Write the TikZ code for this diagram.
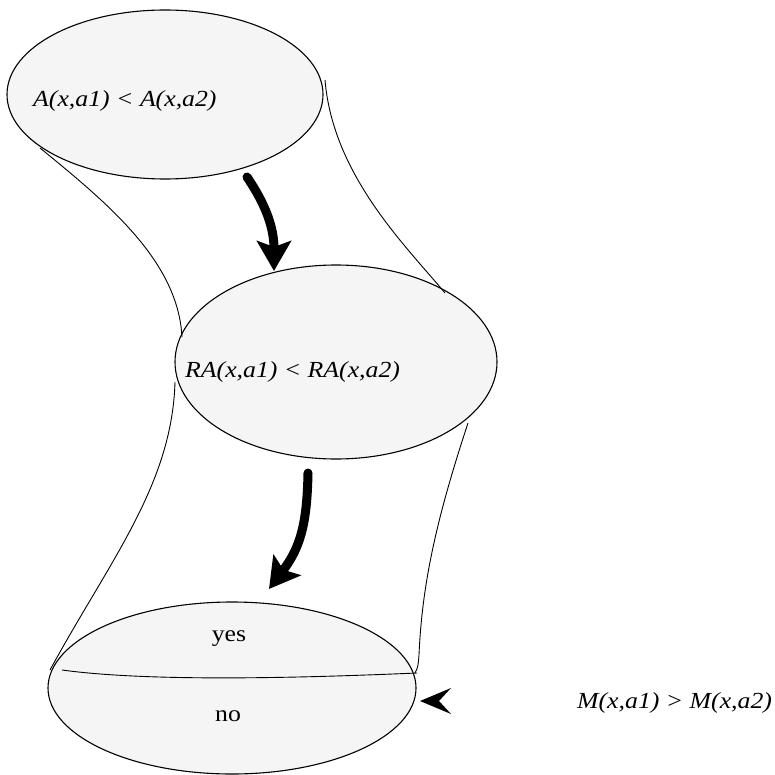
\documentclass[tikz,border=0pt]{standalone}
\usepackage{fontspec}
\setmainfont{Liberation Serif}
\newfontfamily\lblfont[FakeStretch=1.12]{Liberation Serif}
\usetikzlibrary{shapes.geometric,arrows.meta}
\begin{document}
\begin{tikzpicture}[x=1pt,y=-1pt,
  bubble/.style={ellipse, draw, line width=1.1pt, fill=black!4, inner sep=0pt},
  tube/.style={line width=0.9pt},
  flow/.style={line width=9pt, line cap=round, -{Stealth[length=30pt,width=34pt,inset=6pt]}},
  mathlbl/.style={font=\lblfont\fontsize{23}{27}\selectfont\itshape, inner sep=0pt, anchor=west},
  plainlbl/.style={font=\lblfont\fontsize{23}{27}\selectfont, inner sep=0pt}]
\useasboundingbox (0,0) rectangle (775,775);

% ellipses
\node[bubble, minimum width=316pt, minimum height=169pt] (e1) at (165,94.5) {};
\node[bubble, minimum width=322pt, minimum height=194pt] (e2) at (336,362) {};
\node[bubble, minimum width=368pt, minimum height=172pt] (e3) at (232,688) {};

% labels
\node[mathlbl] (t1) at (33,101) {A(x,a1) < A(x,a2)};
\node[mathlbl] (t2) at (185,372) {RA(x,a1) < RA(x,a2)};
\node[plainlbl] (yes) at (229,639) {yes};
\node[plainlbl] (no) at (228,716) {no};
\node[mathlbl] (t3) at (577,703) {M(x,a1) > M(x,a2)};

% tube outlines
\coordinate (l1a) at (40,148);
\coordinate (l1b) at (182,337);
\coordinate (r1a) at (325,80);
\coordinate (r1b) at (445,293);
\coordinate (l2a) at (175,382);
\coordinate (l2b) at (50,670);
\coordinate (r2a) at (468,423);
\coordinate (r2m) at (419,655);
\coordinate (r2b) at (415,673);
\coordinate (da) at (62,670);
\coordinate (db) at (417,673);
\draw[tube] (l1a) .. controls (110,205) and (178,262) .. (l1b);
\draw[tube] (r1a) .. controls (333,175) and (405,245) .. (r1b);
\draw[tube] (l2a) .. controls (172,485) and (110,560) .. (l2b);
\draw[tube] (r2a) .. controls (436,520) and (422,585) .. (r2m) .. controls (418,667) .. (r2b);
\draw[tube] (da) .. controls (150,682) and (300,678) .. (db);

% flow arrows
\coordinate (a1s) at (247,177);
\coordinate (a1e) at (274,271);
\coordinate (a2s) at (308,473);
\coordinate (a2e) at (269,589);
\draw[flow] (a1s) .. controls (266,205) and (274,228) .. (a1e);
\draw[flow] (a2s) .. controls (307,525) and (300,548) .. (a2e);

% pointer head toward bottom ellipse
\coordinate (ptip) at (420,701);
\fill (ptip) -- (451,688) -- (439,701) -- (451,714) -- cycle;
\end{tikzpicture}
\end{document}
